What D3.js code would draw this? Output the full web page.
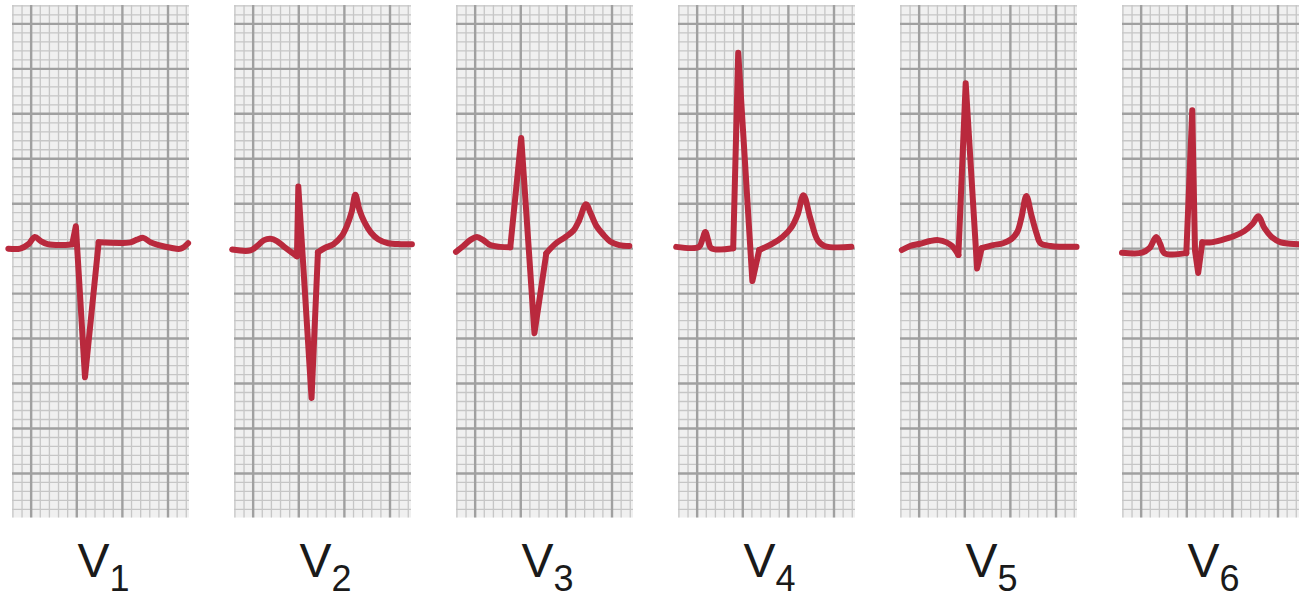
<!DOCTYPE html>
<html>
<head>
<meta charset="utf-8">
<script src="https://cdn.jsdelivr.net/npm/d3@7"></script>
<style>
  html, body { margin: 0; padding: 0; background: #ffffff; }
  svg { display: block; }
</style>
</head>
<body>
<svg id="chart" width="1299" height="598"></svg>
<script>
// Precordial leads (labels: "V" + subscript)
const leads = ["1", "2", "3", "4", "5", "6"];

// Trace samples per lead: time in small squares (mm) from first major line,
// amplitude in small squares (mm) above the isoelectric line.
const v1T = [-2.5, -1.2, -0.3, 0.4, 1.1, 1.8, 3.2, 4.5, 4.9, 5.9, 7.4, 10.9, 11.6, 12.3, 13.1, 14.0, 15.3, 16.4, 17.2];
const v1A = [0, 0, 0.5, 1.3, 0.8, 0.5, 0.4, 0.5, 2.5, -14.3, 0.7, 0.7, 1.0, 1.2, 0.7, 0.4, 0.1, 0, 0.6];

const v2T = [-2.3, -0.3, 0.55, 1.2, 1.9, 2.6, 3.4, 4.2, 4.8, 4.95, 6.4, 7.1, 7.9, 8.8, 9.7, 10.3, 10.8, 11.2, 11.65, 12.2, 12.9, 13.7, 14.8, 16.2, 17.4];
const v2A = [-0.1, -0.2, 0.4, 0.95, 1.1, 0.85, 0.2, -0.4, -0.85, 6.9, -16.6, -0.4, 0.1, 0.5, 1.4, 2.6, 4.1, 6.0, 4.3, 2.95, 1.8, 1.05, 0.6, 0.5, 0.5];

const v3T = [-2.1, -1.3, -0.55, 0.2, 0.9, 1.65, 2.75, 3.85, 5.05, 6.5, 7.8, 8.8, 9.9, 10.8, 11.4, 12.15, 12.65, 13.3, 14.1, 14.8, 15.8, 16.9];
const v3A = [-0.35, 0.3, 0.95, 1.3, 0.95, 0.4, 0.2, 0.15, 12.3, -9.4, -0.5, 0.55, 1.3, 2.05, 3.15, 4.95, 3.95, 2.5, 1.5, 0.8, 0.4, 0.3];

const v4T = [-2.3, 0.2, 0.55, 0.9, 1.2, 1.55, 3.95, 4.5, 6.05, 6.8, 8.25, 9.35, 10.35, 11.0, 11.65, 12.4, 13.2, 13.95, 16.9];
const v4A = [0.2, 0.2, 0.95, 1.85, 0.95, 0.05, 0.05, 21.8, -3.6, -0.15, 0.55, 1.3, 2.4, 3.75, 5.95, 3.4, 0.95, 0.3, 0.2];

const v5T = [-1.9, -1.0, 0.1, 1.2, 2.1, 3.0, 3.6, 4.3, 5.1, 6.35, 6.85, 8.1, 9.2, 10.1, 10.75, 11.2, 11.75, 12.3, 12.85, 13.3, 14.4, 17.25];
const v5A = [-0.15, 0.3, 0.55, 0.85, 0.95, 0.7, 0.3, -0.7, 18.4, -2.2, 0.05, 0.4, 0.6, 1.05, 1.85, 3.4, 5.85, 3.75, 1.75, 0.6, 0.3, 0.2];

const v6T = [-2.1, 0.1, 0.9, 1.65, 2.1, 2.55, 4.95, 5.6, 5.9, 6.25, 6.7, 7.7, 8.8, 10.2, 11.3, 12.2, 12.85, 13.5, 14.3, 15.3, 16.3, 17.3];
const v6A = [-0.45, -0.45, 0.05, 1.3, 0.5, -0.5, -0.5, 15.4, -0.2, -2.7, 0.7, 0.7, 0.95, 1.4, 1.95, 2.75, 3.6, 2.3, 1.3, 0.7, 0.55, 0.5];

// First and last sample index of each QRS complex (drawn with straight strokes)
const qrsStart = [7, 8, 7, 6, 7, 6];
const qrsEnd = [10, 11, 10, 9, 10, 10];

const traces = [[v1T, v1A], [v2T, v2A], [v3T, v3A], [v4T, v4A], [v5T, v5A], [v6T, v6A]];

// Grid extent in mm (small squares)
const gridX = [-2.1, 17.3];
const gridY = [-29.9, 27.1];

const svg = d3.select("#chart");

// Panel placement
const panelIndex = d3.scaleLinear().domain([0, 1]).range([12, 234]);
const panelW = 177;

const y = d3.scaleLinear().domain(gridY).range([517.5, 5]);

leads.forEach((lead, i) => {
  const left = panelIndex(i);
  const x = d3.scaleLinear().domain(gridX).range([left, left + panelW]);
  const g = svg.append("g");

  g.append("rect")
    .attr("x", x(gridX[0])).attr("y", y(gridY[1]))
    .attr("width", x(gridX[1]) - x(gridX[0]))
    .attr("height", y(gridY[0]) - y(gridY[1]))
    .attr("fill", "#f0f0f0");

  const vMinor = d3.range(-2, 18).filter(v => v % 5 !== 0);
  const hMinor = d3.range(-29, 28).filter(v => v % 5 !== 0);
  const vMajor = d3.range(-2, 18).filter(v => v % 5 === 0);
  const hMajor = d3.range(-29, 28).filter(v => v % 5 === 0);

  g.selectAll(".vmin").data(vMinor).join("line")
    .attr("x1", d => x(d)).attr("x2", d => x(d))
    .attr("y1", y(gridY[1])).attr("y2", y(gridY[0]))
    .attr("stroke", "#c6c6c6").attr("stroke-width", 1.3);
  g.selectAll(".hmin").data(hMinor).join("line")
    .attr("y1", d => y(d)).attr("y2", d => y(d))
    .attr("x1", x(gridX[0])).attr("x2", x(gridX[1]))
    .attr("stroke", "#c6c6c6").attr("stroke-width", 1.3);
  g.selectAll(".vmaj").data(vMajor).join("line")
    .attr("x1", d => x(d)).attr("x2", d => x(d))
    .attr("y1", y(gridY[1])).attr("y2", y(gridY[0]))
    .attr("stroke", "#a0a0a0").attr("stroke-width", 2.4);
  g.selectAll(".hmaj").data(hMajor).join("line")
    .attr("y1", d => y(d)).attr("y2", d => y(d))
    .attr("x1", x(gridX[0])).attr("x2", x(gridX[1]))
    .attr("stroke", "#a0a0a0").attr("stroke-width", 2.4);

  const [ts, as] = traces[i];
  const pts = ts.map((t, k) => [t, as[k]]);
  const smooth = d3.line().x(d => x(d[0])).y(d => y(d[1])).curve(d3.curveCatmullRom.alpha(0.5));
  const straight = d3.line().x(d => x(d[0])).y(d => y(d[1])).curve(d3.curveLinear);
  const pieces = [
    [smooth, pts.slice(0, qrsStart[i] + 1)],
    [straight, pts.slice(qrsStart[i], qrsEnd[i] + 1)],
    [smooth, pts.slice(qrsEnd[i])]
  ];
  pieces.forEach(([gen, seg]) => {
    g.append("path")
      .attr("d", gen(seg))
      .attr("fill", "none")
      .attr("stroke", "#b9293d")
      .attr("stroke-width", 6)
      .attr("stroke-linejoin", "round")
      .attr("stroke-linecap", "round");
  });

  const label = g.append("text")
    .attr("x", left + panelW / 2 + 3)
    .attr("y", 577)
    .attr("text-anchor", "middle")
    .attr("font-family", "Liberation Sans, Arial, sans-serif")
    .attr("font-size", 48)
    .attr("fill", "#1a1a1a");
  label.append("tspan").text("V");
  label.append("tspan").attr("dy", 14).attr("font-size", 36).text(lead);
});
</script>
</body>
</html>
